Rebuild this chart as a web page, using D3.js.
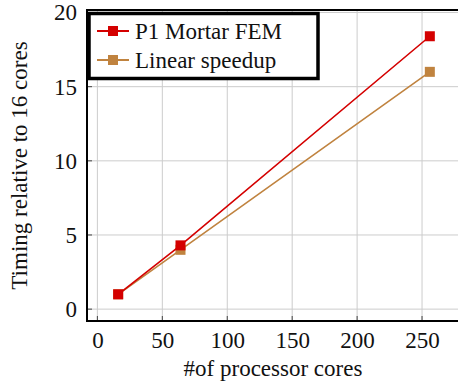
<!DOCTYPE html>
<html><head><meta charset="utf-8">
<script src="https://cdn.jsdelivr.net/npm/d3@7"></script>
<style>body{margin:0;background:#fff}svg{display:block}svg text{font-family:"Liberation Serif";}</style>
</head><body>
<svg id="c" width="458" height="387"></svg>
<script>
const cores = [16, 64, 256];
const mortar = [1, 4.3, 18.4];
const linear = [1, 4, 16];
const xTicks = [0, 50, 100, 150, 200, 250];
const yTicks = [0, 5, 10, 15, 20];
const seriesNames = ["P1 Mortar FEM", "Linear speedup"];
const colors = ["#d40000", "#c0833f"];
const FONT = "Liberation Serif";

const svg = d3.select("#c");
const L = 87, R = 461, T = 10, B = 321;
const x = d3.scaleLinear().domain([-8, 280]).range([L, R]);
const y = d3.scaleLinear().domain([-0.8, 20.17]).range([B, T]);

// grid
svg.append("g").selectAll("line").data(xTicks).join("line")
  .attr("x1", d => x(d)).attr("x2", d => x(d)).attr("y1", T).attr("y2", B)
  .attr("stroke", "#cccccc").attr("stroke-width", 1);
svg.append("g").selectAll("line").data(yTicks).join("line")
  .attr("x1", L).attr("x2", R).attr("y1", d => y(d)).attr("y2", d => y(d))
  .attr("stroke", "#cccccc").attr("stroke-width", 1);

// axes
const xa = svg.append("g").attr("transform", `translate(0,${B})`)
  .call(d3.axisBottom(x).tickValues(xTicks).tickSize(0).tickPadding(11));
const ya = svg.append("g").attr("transform", `translate(${L},0)`)
  .call(d3.axisLeft(y).tickValues(yTicks).tickSize(0).tickPadding(10));
[xa, ya].forEach(a => {
  a.select(".domain").remove();
  a.attr("font-family", FONT).attr("font-size", 23);
  a.selectAll("text").attr("font-family", FONT).style("font-family", FONT).style("font-size", "23px").attr("fill", "#111");
});
// small tick marks inside
svg.append("g").selectAll("line").data(xTicks).join("line")
  .attr("x1", d => x(d)).attr("x2", d => x(d)).attr("y1", B).attr("y2", B - 5).attr("stroke", "#444");
svg.append("g").selectAll("line").data(yTicks).join("line")
  .attr("x1", L).attr("x2", L + 5).attr("y1", d => y(d)).attr("y2", d => y(d)).attr("stroke", "#444");

// frame
svg.append("rect").attr("x", L).attr("y", T).attr("width", R - L).attr("height", B - T)
  .attr("fill", "none").attr("stroke", "#000").attr("stroke-width", 2);

// series
const data = [mortar, linear];
const line = d3.line().x((d, i) => x(cores[i])).y(d => y(d));
[1, 0].forEach(s => {
  svg.append("path").datum(data[s]).attr("d", line).attr("fill", "none")
    .attr("stroke", colors[s]).attr("stroke-width", 1.6);
  svg.append("g").selectAll("rect").data(data[s]).join("rect")
    .attr("x", (d, i) => x(cores[i]) - 5).attr("y", d => y(d) - 5)
    .attr("width", 10).attr("height", 10).attr("fill", colors[s]);
});

// legend
const lg = svg.append("g");
lg.append("rect").attr("x", 89).attr("y", 13.5).attr("width", 229).attr("height", 65)
  .attr("fill", "#fff").attr("stroke", "#000").attr("stroke-width", 3.5);
seriesNames.forEach((n, i) => {
  const cy = 31 + i * 29;
  lg.append("line").attr("x1", 97).attr("x2", 129).attr("y1", cy).attr("y2", cy)
    .attr("stroke", colors[i]).attr("stroke-width", 2);
  lg.append("rect").attr("x", 108).attr("y", cy - 5).attr("width", 10).attr("height", 10).attr("fill", colors[i]);
  lg.append("text").attr("x", 135).attr("y", cy + 7.5).attr("font-family", FONT)
    .style("font-family", FONT).style("font-size", "23px").attr("fill", "#111").text(n);
});

// axis labels
svg.append("text").attr("x", 273).attr("y", 376).attr("text-anchor", "middle").attr("font-family", FONT)
  .style("font-family", FONT).style("font-size", "23px").attr("fill", "#111").text("#of processor cores");
svg.append("text").attr("transform", `translate(27,${(T + B) / 2}) rotate(-90)`).attr("text-anchor", "middle").attr("font-family", FONT)
  .style("font-family", FONT).style("font-size", "23px").attr("fill", "#111").text("Timing relative to 16 cores");
</script>
</body></html>
